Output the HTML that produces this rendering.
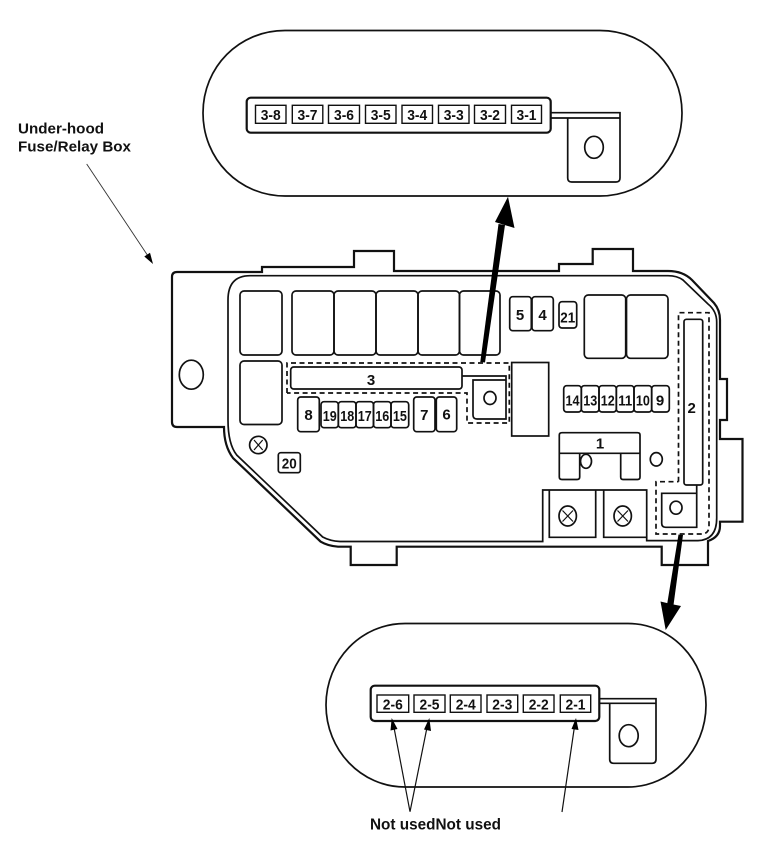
<!DOCTYPE html>
<html>
<head>
<meta charset="utf-8">
<style>
html,body{margin:0;padding:0;background:#fff;}
svg{display:block;}
text{font-family:"Liberation Sans",Arial,sans-serif;font-weight:bold;fill:#111;}
.l{text-anchor:middle;font-size:15px;}
.c{text-anchor:middle;font-size:15px;}
.s{fill:#fff;stroke:#111;stroke-width:1.4;}
.t{fill:none;stroke:#111;stroke-width:1.2;}
.m{fill:none;stroke:#111;stroke-width:1.7;}
.h{fill:none;stroke:#111;stroke-width:2.2;}
.d{fill:none;stroke:#111;stroke-width:1.7;stroke-dasharray:5 3.5;}
</style>
</head>
<body>
<svg width="763" height="855" viewBox="0 0 763 855" xmlns="http://www.w3.org/2000/svg">
<rect width="763" height="855" fill="#fff"/>

<!-- top capsule -->
<path class="m" d="M285 30.5H600C646 30.5 682 67 682 113S646 196 600 196H285C239 196 203 159 203 113S239 30.5 285 30.5Z"/>
<rect class="h" x="246.7" y="97.7" width="304" height="35" rx="4"/>
<g class="s" fill="#fff">
<rect x="255.5" y="105.3" width="30.5" height="18"/>
<rect x="292.3" y="105.3" width="30.5" height="18"/>
<rect x="328.5" y="105.3" width="31" height="18"/>
<rect x="365.5" y="105.3" width="30.5" height="18"/>
<rect x="402" y="105.3" width="30.5" height="18"/>
<rect x="438.5" y="105.3" width="30.5" height="18"/>
<rect x="474.5" y="105.3" width="31" height="18"/>
<rect x="511.5" y="105.3" width="30" height="18"/>
</g>
<text class="c" x="270.7" y="120" textLength="20" lengthAdjust="spacingAndGlyphs">3-8</text>
<text class="c" x="307.5" y="120" textLength="20" lengthAdjust="spacingAndGlyphs">3-7</text>
<text class="c" x="344" y="120" textLength="20" lengthAdjust="spacingAndGlyphs">3-6</text>
<text class="c" x="380.7" y="120" textLength="20" lengthAdjust="spacingAndGlyphs">3-5</text>
<text class="c" x="417.2" y="120" textLength="20" lengthAdjust="spacingAndGlyphs">3-4</text>
<text class="c" x="453.7" y="120" textLength="20" lengthAdjust="spacingAndGlyphs">3-3</text>
<text class="c" x="490" y="120" textLength="20" lengthAdjust="spacingAndGlyphs">3-2</text>
<text class="c" x="526.5" y="120" textLength="20" lengthAdjust="spacingAndGlyphs">3-1</text>
<path class="m" d="M551 112.7H620V118H551M620 118V178Q620 182 616 182H571.7Q567.7 182 567.7 178V118"/>
<ellipse class="m" cx="594" cy="147.3" rx="9.3" ry="11"/>

<!-- bottom capsule -->
<path class="m" d="M405 623.5H628C671 623.5 706 660 706 705S671 787 628 787H405C361 787 326 750 326 705S361 623.5 405 623.5Z"/>
<rect class="h" x="370.7" y="685.7" width="228.6" height="35.3" rx="4"/>
<g class="s">
<rect x="377" y="695" width="31.7" height="17.3"/>
<rect x="414" y="695" width="31" height="17.3"/>
<rect x="450.3" y="695" width="30.7" height="17.3"/>
<rect x="487" y="695" width="30.7" height="17.3"/>
<rect x="523.3" y="695" width="30.7" height="17.3"/>
<rect x="560.3" y="695" width="30.4" height="17.3"/>
</g>
<text class="c" x="392.8" y="709.7" textLength="20" lengthAdjust="spacingAndGlyphs">2-6</text>
<text class="c" x="429.5" y="709.7" textLength="20" lengthAdjust="spacingAndGlyphs">2-5</text>
<text class="c" x="465.7" y="709.7" textLength="20" lengthAdjust="spacingAndGlyphs">2-4</text>
<text class="c" x="502.3" y="709.7" textLength="20" lengthAdjust="spacingAndGlyphs">2-3</text>
<text class="c" x="538.7" y="709.7" textLength="20" lengthAdjust="spacingAndGlyphs">2-2</text>
<text class="c" x="575.5" y="709.7" textLength="20" lengthAdjust="spacingAndGlyphs">2-1</text>
<path class="m" d="M599.5 698.7H656V703.3H599.5M656 703.3V759.3Q656 763.3 652 763.3H613.7Q609.7 763.3 609.7 759.3V703.3"/>
<ellipse class="m" cx="628.7" cy="735.7" rx="9.5" ry="11"/>

<!-- outer outline -->
<path class="h" d="M224 427H177Q172 427 172 422V277Q172 272 177 272H262V267H354V251H394V271H559V264H592.7V249H633V271H668Q683 271 692 280L714 303Q720 310 720 320V379H727V420H720V439H742.5V521.7H720V526Q720 537 708 541V565H661.7V546.7H396.7V565H350.7V546.7H338Q328 546 320.7 541.7L233 458Q224 446 224 427Z"/>
<!-- inner outline -->
<path class="m" d="M228 300Q228 275.7 250 275.7H668Q677 275.7 683 280L708 304Q716.7 311 716.7 322V518Q716.7 540 698 540.6H646.7V490H542.7V541.5H340Q330 541 322.7 537L236.7 455Q228 444 228 420Z"/>

<!-- left hole -->
<ellipse class="m" cx="191.3" cy="374.7" rx="12" ry="14.5"/>

<!-- relays -->
<g class="m">
<rect x="240" y="291" width="42" height="64" rx="4"/>
<rect x="240" y="361" width="42" height="63.5" rx="4"/>
<rect x="292" y="291" width="42" height="64" rx="4"/>
<rect x="334" y="291" width="42" height="64" rx="4"/>
<rect x="376" y="291" width="42" height="64" rx="4"/>
<rect x="418" y="291" width="41.5" height="64" rx="4"/>
<rect x="459.5" y="291" width="40.5" height="64" rx="4"/>
<rect x="584.3" y="295" width="41.4" height="63.3" rx="4"/>
<rect x="626.5" y="295" width="41.5" height="63.3" rx="4"/>
</g>

<!-- dashed 3 -->
<path class="d" d="M287 393V363H509.3V423H467V393H287"/>
<rect class="m" x="290.7" y="367" width="171.3" height="22" rx="3"/>
<text class="l" x="371" y="385">3</text>
<path class="m" d="M462 376H506V419H477Q473 419 473 415V380H506"/>
<ellipse class="m" cx="490" cy="398" rx="6" ry="6.5"/>
<rect class="m" x="511.7" y="362.5" width="37" height="73.5"/>

<!-- small fuses -->
<g class="m">
<rect x="297.7" y="397" width="21.6" height="34.7" rx="3"/>
<rect x="321" y="401.7" width="17.3" height="26" rx="3"/>
<rect x="338.3" y="401.7" width="17.7" height="26" rx="3"/>
<rect x="356" y="401.7" width="17.5" height="26" rx="3"/>
<rect x="373.5" y="401.7" width="17.5" height="26" rx="3"/>
<rect x="391" y="401.7" width="17.7" height="26" rx="3"/>
<rect x="413.7" y="397" width="21.3" height="34.7" rx="3"/>
<rect x="436.3" y="397" width="20.4" height="34.7" rx="3"/>
<rect x="509.7" y="296.7" width="21.6" height="34" rx="3"/>
<rect x="532" y="296.7" width="21.3" height="34" rx="3"/>
<rect x="559" y="301.7" width="17.7" height="26.3" rx="3"/>
<rect x="563.7" y="385.7" width="17.6" height="26.3" rx="3"/>
<rect x="581.3" y="385.7" width="17.7" height="26.3" rx="3"/>
<rect x="599" y="385.7" width="17.3" height="26.3" rx="3"/>
<rect x="616.3" y="385.7" width="17.7" height="26.3" rx="3"/>
<rect x="634" y="385.7" width="17.7" height="26.3" rx="3"/>
<rect x="651.7" y="385.7" width="17.6" height="26.3" rx="3"/>
<rect x="278.3" y="452.7" width="22" height="20" rx="2.5"/>
</g>
<text class="l" x="308.5" y="420">8</text>
<text class="l" x="329.7" y="421" textLength="14" lengthAdjust="spacingAndGlyphs">19</text>
<text class="l" x="347.2" y="421" textLength="14" lengthAdjust="spacingAndGlyphs">18</text>
<text class="l" x="364.8" y="421" textLength="14" lengthAdjust="spacingAndGlyphs">17</text>
<text class="l" x="382.3" y="421" textLength="14" lengthAdjust="spacingAndGlyphs">16</text>
<text class="l" x="399.9" y="421" textLength="14" lengthAdjust="spacingAndGlyphs">15</text>
<text class="l" x="424.3" y="420">7</text>
<text class="l" x="446.5" y="419.5">6</text>
<text class="l" x="520" y="320">5</text>
<text class="l" x="542.6" y="320">4</text>
<text class="l" x="567.8" y="322.3" textLength="15" lengthAdjust="spacingAndGlyphs">21</text>
<text class="l" x="572.5" y="405.5" textLength="14" lengthAdjust="spacingAndGlyphs">14</text>
<text class="l" x="590.2" y="405.5" textLength="14" lengthAdjust="spacingAndGlyphs">13</text>
<text class="l" x="607.7" y="405.5" textLength="14" lengthAdjust="spacingAndGlyphs">12</text>
<text class="l" x="625.2" y="405.5" textLength="14" lengthAdjust="spacingAndGlyphs">11</text>
<text class="l" x="642.9" y="405.5" textLength="14" lengthAdjust="spacingAndGlyphs">10</text>
<text class="l" x="660" y="405.5">9</text>
<text class="l" x="289.3" y="468.5" textLength="15" lengthAdjust="spacingAndGlyphs">20</text>

<!-- screw left -->
<circle class="m" cx="258.3" cy="445" r="8.7"/>
<path class="t" d="M254 440L262.7 450M262.7 440L254 450"/>

<!-- dashed 2 -->
<path class="d" d="M678.5 481.7V312.7H709V526Q709 534 701 534H656V481.7H678.5"/>
<rect class="m" x="684" y="319.3" width="18.7" height="165.7" rx="2.5"/>
<text class="l" x="691.7" y="413">2</text>
<path class="m" d="M696.7 485V527.3H665.7Q661.7 527.3 661.7 523.3V493.3H696.7"/>
<ellipse class="m" cx="676" cy="507.7" rx="6" ry="6.5"/>

<!-- fuse 1 -->
<path class="m" d="M562 432.7H637.5Q640 432.7 640 435V477Q640 479.5 637.5 479.5H623Q620.7 479.5 620.7 477V453.3H579.7V477Q579.7 479.5 577 479.5H562Q559.3 479.5 559.3 477V435Q559.3 432.7 562 432.7ZM559.3 453.3H579.7M620.7 453.3H640"/>
<text class="l" x="600" y="448.5">1</text>
<ellipse class="m" cx="586" cy="461.3" rx="5.5" ry="7"/>
<ellipse class="m" cx="656.3" cy="459.3" rx="6" ry="6.7"/>

<!-- screw bays -->
<path class="m" d="M549.3 490V537.3H595.7V490M603.7 490V537.3H646.7"/>
<ellipse class="m" cx="567.7" cy="516" rx="8.7" ry="10"/>
<path class="t" d="M562.5 510.5L573 521.5M573 510.5L562.5 521.5"/>
<ellipse class="m" cx="622.7" cy="516" rx="8.7" ry="10"/>
<path class="t" d="M617.5 510.5L628 521.5M628 510.5L617.5 521.5"/>

<!-- heavy arrows -->
<path fill="#000" d="M480.3 362L498.5 224L505 225L485 362.5Z"/>
<path fill="#000" d="M508 196.7L514.5 228L503 224.5L495 222Z"/>
<path fill="#000" d="M678.5 534.5L683 535L673.5 605L667 605Z"/>
<path fill="#000" d="M665.7 630L660.5 601.5L671 604L681 606Z"/>

<!-- thin arrows -->
<path fill="none" stroke="#333" stroke-width="0.9" d="M86.7 164L150 259"/>
<path fill="#000" d="M153 264L144.3 256.5L150 252.7Z"/>

<path fill="none" stroke="#111" stroke-width="1.2" d="M410 811.7L393.5 725M410 811.7L427.5 725M562 812L574.7 725"/>
<path fill="#000" d="M391.7 718L397.5 729L390.5 730.5Z"/>
<path fill="#000" d="M429.3 718L431 731L424 729.5Z"/>
<path fill="#000" d="M576 718L578.5 730L571.5 729Z"/>

<!-- labels -->
<text x="18" y="133.3" style="font-size:15px" textLength="86" lengthAdjust="spacingAndGlyphs">Under-hood</text>
<text x="18" y="151.7" style="font-size:15px" textLength="113" lengthAdjust="spacingAndGlyphs">Fuse/Relay Box</text>
<text x="370" y="829.5" style="font-size:15.5px" textLength="131" lengthAdjust="spacingAndGlyphs">Not usedNot used</text>
</svg>
</body>
</html>
